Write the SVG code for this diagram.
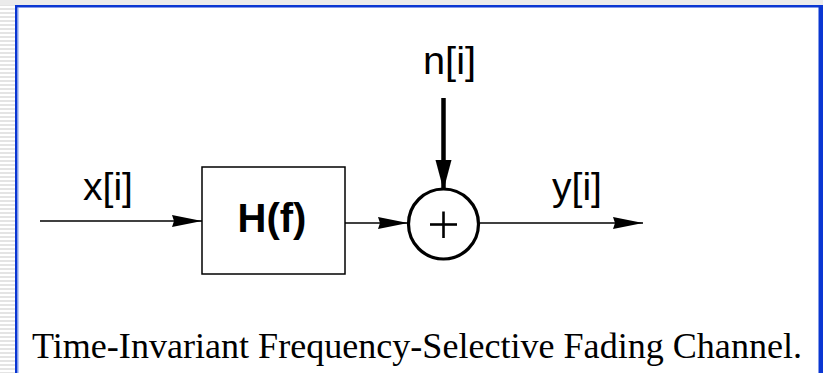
<svg xmlns="http://www.w3.org/2000/svg" width="823" height="373" viewBox="0 0 823 373">
<defs>
<pattern id="stripes" x="0" y="0" width="16" height="4" patternUnits="userSpaceOnUse">
<rect x="0" y="0" width="16" height="2" fill="#e4e4e4"/>
</pattern>
<marker id="ah" markerUnits="userSpaceOnUse" markerWidth="32" markerHeight="14" refX="30" refY="7" orient="auto" viewBox="0 0 32 14">
<path d="M0,1 L30,7 L0,13 L2,7 z" fill="#000"/>
</marker>
<marker id="ahb" markerUnits="userSpaceOnUse" markerWidth="32" markerHeight="20" refX="30" refY="10" orient="auto" viewBox="0 0 32 20">
<path d="M0,2 L30,10 L0,18 z" fill="#000"/>
</marker>
</defs>
<style>
.lab{font-family:"Liberation Sans",Arial,sans-serif;font-size:38px;fill:#000}
.hf{font-family:"Liberation Sans",Arial,sans-serif;font-size:40px;font-weight:bold;fill:#000}
.cap{font-family:"Liberation Serif","Times New Roman",serif;font-size:36px;fill:#000}
.wire{stroke:#000;stroke-width:1.5;fill:none}
</style>
<rect x="0" y="0" width="823" height="373" fill="#fff"/>
<rect x="0" y="0" width="823" height="5" fill="#ebebeb"/>
<rect x="0" y="5" width="15" height="368" fill="url(#stripes)"/>
<rect x="15" y="5" width="808" height="2.5" fill="#0a36d2"/>
<rect x="15" y="5" width="2.5" height="368" fill="#0a36d2"/>
<rect x="17.5" y="7.5" width="1" height="366" fill="#7f9cf0"/>
<rect x="818.5" y="5" width="4.5" height="368" fill="#0a36d2"/>

<g id="connectors">
<line class="wire" x1="40" y1="221" x2="202" y2="221" marker-end="url(#ah)"/>
<line class="wire" x1="345" y1="223" x2="408" y2="223" marker-end="url(#ah)"/>
<line class="wire" x1="480" y1="223" x2="643" y2="223" marker-end="url(#ah)"/>
<line x1="443.5" y1="98" x2="443.5" y2="190" stroke="#000" stroke-width="4.5" marker-end="url(#ahb)"/>
<text class="lab" x="83" y="200" textLength="50" lengthAdjust="spacingAndGlyphs">x[i]</text>
<text class="lab" x="423" y="74" textLength="53" lengthAdjust="spacingAndGlyphs">n[i]</text>
<text class="lab" x="552" y="200" textLength="50" lengthAdjust="spacingAndGlyphs">y[i]</text>
</g>

<g id="hf">
<rect x="202" y="167" width="143" height="107" fill="#fff" stroke="#000" stroke-width="1.5"/>
<text class="hf" x="272" y="232" text-anchor="middle">H(f)</text>
</g>

<g id="sum">
<circle cx="443.5" cy="224" r="35" fill="#fff" stroke="#000" stroke-width="3.2"/>
<line x1="430" y1="224.5" x2="457" y2="224.5" stroke="#000" stroke-width="2.6"/>
<line x1="443.5" y1="211.5" x2="443.5" y2="238" stroke="#000" stroke-width="2.6"/>
</g>

<text id="caption" class="cap" x="32" y="358" textLength="770" lengthAdjust="spacingAndGlyphs">Time-Invariant Frequency-Selective Fading Channel.</text>
</svg>
